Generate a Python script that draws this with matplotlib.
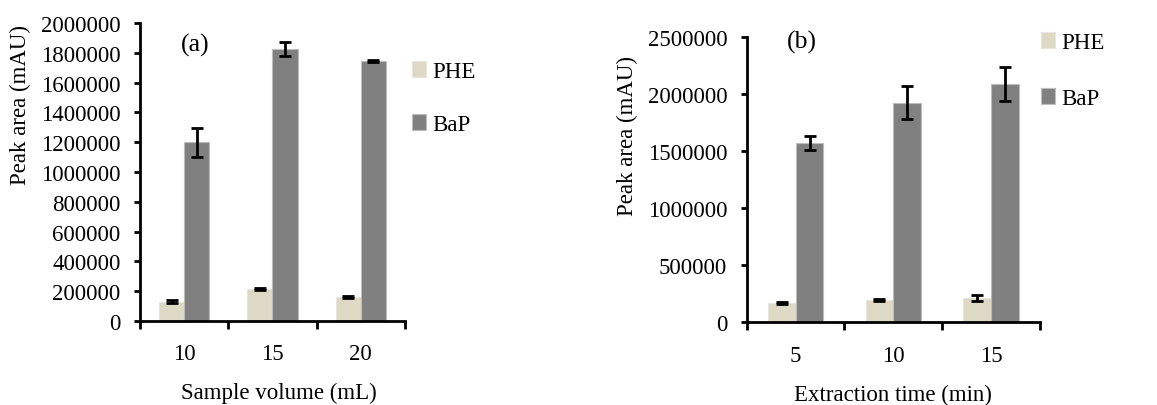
import numpy as np
import matplotlib
matplotlib.use("Agg")
import matplotlib.pyplot as plt
from matplotlib.ticker import FixedLocator, NullFormatter

plt.rcParams['font.family'] = ['Liberation Serif', 'DejaVu Serif']

# panel (a): sample volume
vol_labels = ['10', '15', '20']
phe_a = [130000, 215000, 161000]
phe_a_err = [8000, 6000, 7000]
bap_a = [1200000, 1826000, 1743000]
bap_a_err = [98000, 45000, 8000]

# panel (b): extraction time
time_labels = ['5', '10', '15']
phe_b = [169000, 195000, 216000]
phe_b_err = [8000, 8000, 26000]
bap_b = [1567000, 1922000, 2086000]
bap_b_err = [60000, 145000, 148000]

c_phe = '#ddd9c4'
c_bap = '#808080'
fs = 16.5

fig = plt.figure(figsize=(11.57, 4.06), dpi=100)
ax1 = fig.add_axes([0.121, 0.207, 0.229, 0.734])
ax2 = fig.add_axes([0.6454, 0.2037, 0.2535, 0.7034])


def draw(ax, labels, phe, phe_err, bap, bap_err, ymax, ystep):
    x = np.arange(len(labels))
    w = 0.285
    ekw = dict(elinewidth=2, capthick=2, ecolor='black')
    ax.bar(x - w / 2, phe, w, color=c_phe, edgecolor='#e8e6dc', linewidth=0.8,
           yerr=phe_err, capsize=4.5, error_kw=ekw, label='PHE')
    ax.bar(x + w / 2, bap, w, color=c_bap, edgecolor='#bdbdbd', linewidth=0.8,
           yerr=bap_err, capsize=4.5, error_kw=ekw, label='BaP')
    ax.set_xlim(-0.5, len(labels) - 0.5)
    ax.set_ylim(0, ymax)
    ax.set_yticks(np.arange(0, ymax + 1, ystep))
    ax.set_yticklabels([str(int(v)) for v in np.arange(0, ymax + 1, ystep)], fontsize=fs)
    ax.xaxis.set_major_locator(FixedLocator(np.arange(-0.5, len(labels), 1.0)))
    ax.xaxis.set_major_formatter(NullFormatter())
    ax.xaxis.set_minor_locator(FixedLocator(x))
    ax.set_xticklabels(labels, minor=True, fontsize=fs)
    ax.tick_params(axis='x', which='minor', length=0, pad=16)
    ax.tick_params(axis='x', which='major', length=6, width=2, direction='out')
    ax.tick_params(axis='y', length=4, width=2, direction='out', pad=10)
    for s in ['top', 'right']:
        ax.spines[s].set_visible(False)
    for s in ['left', 'bottom']:
        ax.spines[s].set_linewidth(2)


draw(ax1, vol_labels, phe_a, phe_a_err, bap_a, bap_a_err, 2000000, 200000)
draw(ax2, time_labels, phe_b, phe_b_err, bap_b, bap_b_err, 2500000, 500000)

# axis titles (Excel-style placement)
fig.text(20 / 1157, 1 - 105 / 406, 'Peak area (mAU)', rotation=90, fontsize=fs,
         ha='center', va='center')
fig.text(627 / 1157, 1 - 136 / 406, 'Peak area (mAU)', rotation=90, fontsize=fs,
         ha='center', va='center')
fig.text(279 / 1157, 1 - 393 / 406, 'Sample volume (mL)', fontsize=fs,
         ha='center', va='center')
fig.text(893 / 1157, 1 - 395 / 406, 'Extraction time (min)', fontsize=fs,
         ha='center', va='center')

fig.text(195 / 1157, 1 - 45 / 406, '(a)', fontsize=fs + 2, ha='center', va='center')
fig.text(802 / 1157, 1 - 42 / 406, '(b)', fontsize=fs + 2, ha='center', va='center')

ax1.legend(loc='upper left', bbox_to_anchor=(412 / 1157, 1 - 62 / 406),
           bbox_transform=fig.transFigure, frameon=False, fontsize=fs,
           handlelength=0.6, handleheight=0.7, handletextpad=0.3, labelspacing=1.39,
           borderpad=0, borderaxespad=0)
ax2.legend(loc='upper left', bbox_to_anchor=(1041 / 1157, 1 - 33 / 406),
           bbox_transform=fig.transFigure, frameon=False, fontsize=fs,
           handlelength=0.6, handleheight=0.7, handletextpad=0.3, labelspacing=1.52,
           borderpad=0, borderaxespad=0)

fig.savefig('out.png', dpi=100)
